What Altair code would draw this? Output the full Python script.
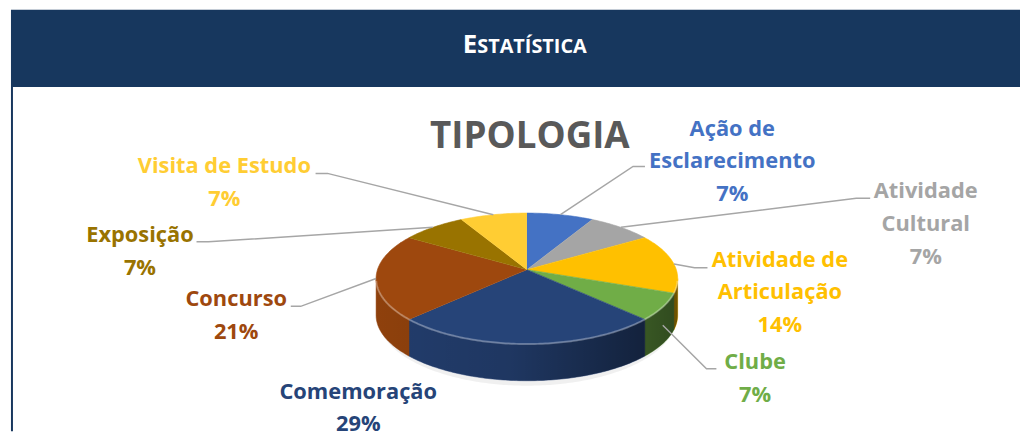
import math
import altair as alt
import pandas as pd

# ---------------- data ----------------
categories = ["Ação de Esclarecimento", "Atividade Cultural", "Atividade de Articulação",
              "Clube", "Comemoração", "Concurso", "Exposição", "Visita de Estudo"]
counts = [1, 1, 2, 1, 4, 3, 1, 1]
label_names = ["Ação de\nEsclarecimento", "Atividade\nCultural", "Atividade de\nArticulação",
               "Clube", "Comemoração", "Concurso", "Exposição", "Visita de Estudo"]

# ---------------- styles / layout ----------------
colors = ["#4472C4", "#A5A5A5", "#FFC000", "#70AD47", "#264478", "#9E480E", "#997300", "#FFCD33"]
NAVY = "#17375E"
CX, CY, RX, RY, DEPTH = 531, 279, 152, 66, 37
APEX_DY = -9
label_anchor = [(738, 135), (933, 198), (786, 267), (761, 370), (361, 400), (238, 307), (141, 242), (226, 173)]
leader_bend = [[(638, 166), (650, 166)], [(863, 198), (877, 198)], [(700, 268), (713, 268)],
               [(712, 370), (722, 370)], None, [(303, 307), (293, 307)], [(210, 242), (198, 242)],
               [(330, 173), (318, 173)]]
LINE_H = 33
FONT = "Open Sans"


def shade(hexc, f):
    r, g, b = int(hexc[1:3], 16), int(hexc[3:5], 16), int(hexc[5:7], 16)
    return "#%02x%02x%02x" % (int(r * f), int(g * f), int(b * f))


def ell(phi, dy=0.0, rx=RX, ry=RY):
    a = math.radians(phi)
    return CX + rx * math.sin(a), CY - ry * math.cos(a) + dy


total = sum(counts)
bounds = [0.0]
for c in counts:
    bounds.append(bounds[-1] + 360.0 * c / total)
pcts = [f"{round(100 * c / total)}%" for c in counts]

# top faces
top_rows = []
for i, cat in enumerate(categories):
    a0, a1 = bounds[i], bounds[i + 1]
    n = max(2, int((a1 - a0) / 1.0) + 1)
    pts = [(CX, CY + APEX_DY)] + [ell(a0 + (a1 - a0) * k / (n - 1)) for k in range(n)]
    for k, (x, y) in enumerate(pts):
        top_rows.append({"cat": cat, "o": k, "x": x, "y": y, "hex": colors[i]})
top_df = pd.DataFrame(top_rows)

# side faces (front half, 90..270 deg)
side_rows = []
for i, cat in enumerate(categories):
    a0, a1 = max(bounds[i], 90), min(bounds[i + 1], 270)
    if a1 <= a0:
        continue
    n = max(2, int((a1 - a0) / 1.0) + 1)
    for k in range(n):
        x, y = ell(a0 + (a1 - a0) * k / (n - 1))
        side_rows.append({"cat": cat, "x": x, "y": y, "y2": y + DEPTH, "hex": shade(colors[i], 0.95)})
side_df = pd.DataFrame(side_rows)

over_rows = []
for k in range(181):
    x, y = ell(90 + k)
    over_rows.append({"x": x, "y": y, "y2": y + DEPTH})
over_df = pd.DataFrame(over_rows)

shadow_rows = []
for k in range(181):
    x, y = ell(90 + k, dy=DEPTH + 3, rx=RX - 2, ry=RY + 2)
    shadow_rows.append({"x": x, "y": CY + DEPTH, "y2": y})
shadow_df = pd.DataFrame(shadow_rows)

rim_df = pd.DataFrame([{"o": k, "x": ell(92 + k)[0], "y": ell(92 + k)[1]} for k in range(177)])

# leader lines
lead_rows = []
for i, cat in enumerate(categories):
    if leader_bend[i] is None:
        continue
    mid = (bounds[i] + bounds[i + 1]) / 2
    dy = DEPTH / 2 if 100 < mid < 260 else 0
    sx, sy = ell(mid, dy=dy)
    for k, (x, y) in enumerate([(sx, sy)] + leader_bend[i]):
        lead_rows.append({"cat": cat, "o": k, "x": x, "y": y})
lead_df = pd.DataFrame(lead_rows)

lab_df = pd.DataFrame({
    "cat": categories,
    "txt": [f"{n}\n{p}" for n, p in zip(label_names, pcts)],
    "x": [p[0] for p in label_anchor],
    "y": [p[1] for p in label_anchor],
    "hex": colors,
})

XS = alt.Scale(domain=[8, 1020], nice=False, zero=False)
YS = alt.Scale(domain=[8, 433], nice=False, zero=False, reverse=True)
X = alt.X("x:Q", scale=XS, axis=None)
Y = alt.Y("y:Q", scale=YS, axis=None)

header = alt.Chart(pd.DataFrame({"a": [0]})).mark_rect(color=NAVY).encode(
    x=alt.value(3), x2=alt.value(1020), y=alt.value(0), y2=alt.value(78))
border = alt.Chart(pd.DataFrame({"a": [0]})).mark_rule(color=NAVY, strokeWidth=2).encode(
    x=alt.value(4), y=alt.value(78), y2=alt.value(425))
head_e = alt.Chart(pd.DataFrame({"t": ["E"]})).mark_text(
    font=FONT, fontSize=26, fontWeight="bold", color="white", align="right", baseline="alphabetic"
).encode(x=alt.value(473), y=alt.value(44), text="t:N")
head_rest = alt.Chart(pd.DataFrame({"t": ["STATÍSTICA"]})).mark_text(
    font=FONT, fontSize=20, fontWeight="bold", color="white", align="left", baseline="alphabetic"
).encode(x=alt.value(473), y=alt.value(44), text="t:N")
title = alt.Chart(pd.DataFrame({"t": ["TIPOLOGIA"]})).mark_text(
    font=FONT, fontSize=37, fontWeight="bold", color="#595959", align="center", baseline="alphabetic"
).encode(x=alt.value(526), y=alt.value(139), text="t:N")

shadow = alt.Chart(shadow_df).mark_area(color="#000000", opacity=0.06).encode(
    x=X, y=Y, y2="y2:Q")
sides = alt.Chart(side_df).mark_area(strokeWidth=0.5).encode(
    x=X, y=Y, y2="y2:Q", detail="cat:N",
    fill=alt.Fill("hex:N", scale=None), stroke=alt.Stroke("hex:N", scale=None))
overlay = alt.Chart(over_df).mark_area(
    color=alt.Gradient(gradient="linear", x1=0, x2=1, y1=0, y2=0,
                       stops=[alt.GradientStop(color="rgba(0,0,0,0.05)", offset=0),
                              alt.GradientStop(color="rgba(0,0,0,0.15)", offset=0.45),
                              alt.GradientStop(color="rgba(0,0,0,0.55)", offset=1)])
).encode(x=X, y=Y, y2="y2:Q")
tops = alt.Chart(top_df).mark_line(filled=True, strokeWidth=0.6).encode(
    x=X, y=Y, order="o:Q", detail="cat:N",
    fill=alt.Fill("hex:N", scale=None), stroke=alt.Stroke("hex:N", scale=None))
rim = alt.Chart(rim_df).mark_line(color="white", opacity=0.3, strokeWidth=2).encode(
    x=X, y=Y, order="o:Q")
leaders = alt.Chart(lead_df).mark_line(color="#A6A6A6", strokeWidth=1.5).encode(
    x=X, y=Y, order="o:Q", detail="cat:N")
labels = alt.Chart(lab_df).mark_text(
    font=FONT, fontSize=22, fontWeight="bold", align="center", baseline="alphabetic",
    lineBreak="\n", lineHeight=LINE_H
).encode(x=X, y=Y, text="txt:N", color=alt.Color("hex:N", scale=None))

chart = alt.layer(header, border, head_e, head_rest, title, shadow, sides, overlay, tops, rim,
                  leaders, labels).properties(width=1012, height=425, padding=0,
                                              background="white").configure_view(strokeWidth=0)

chart.save("out.html", embed_options={"renderer": "svg", "actions": False})
